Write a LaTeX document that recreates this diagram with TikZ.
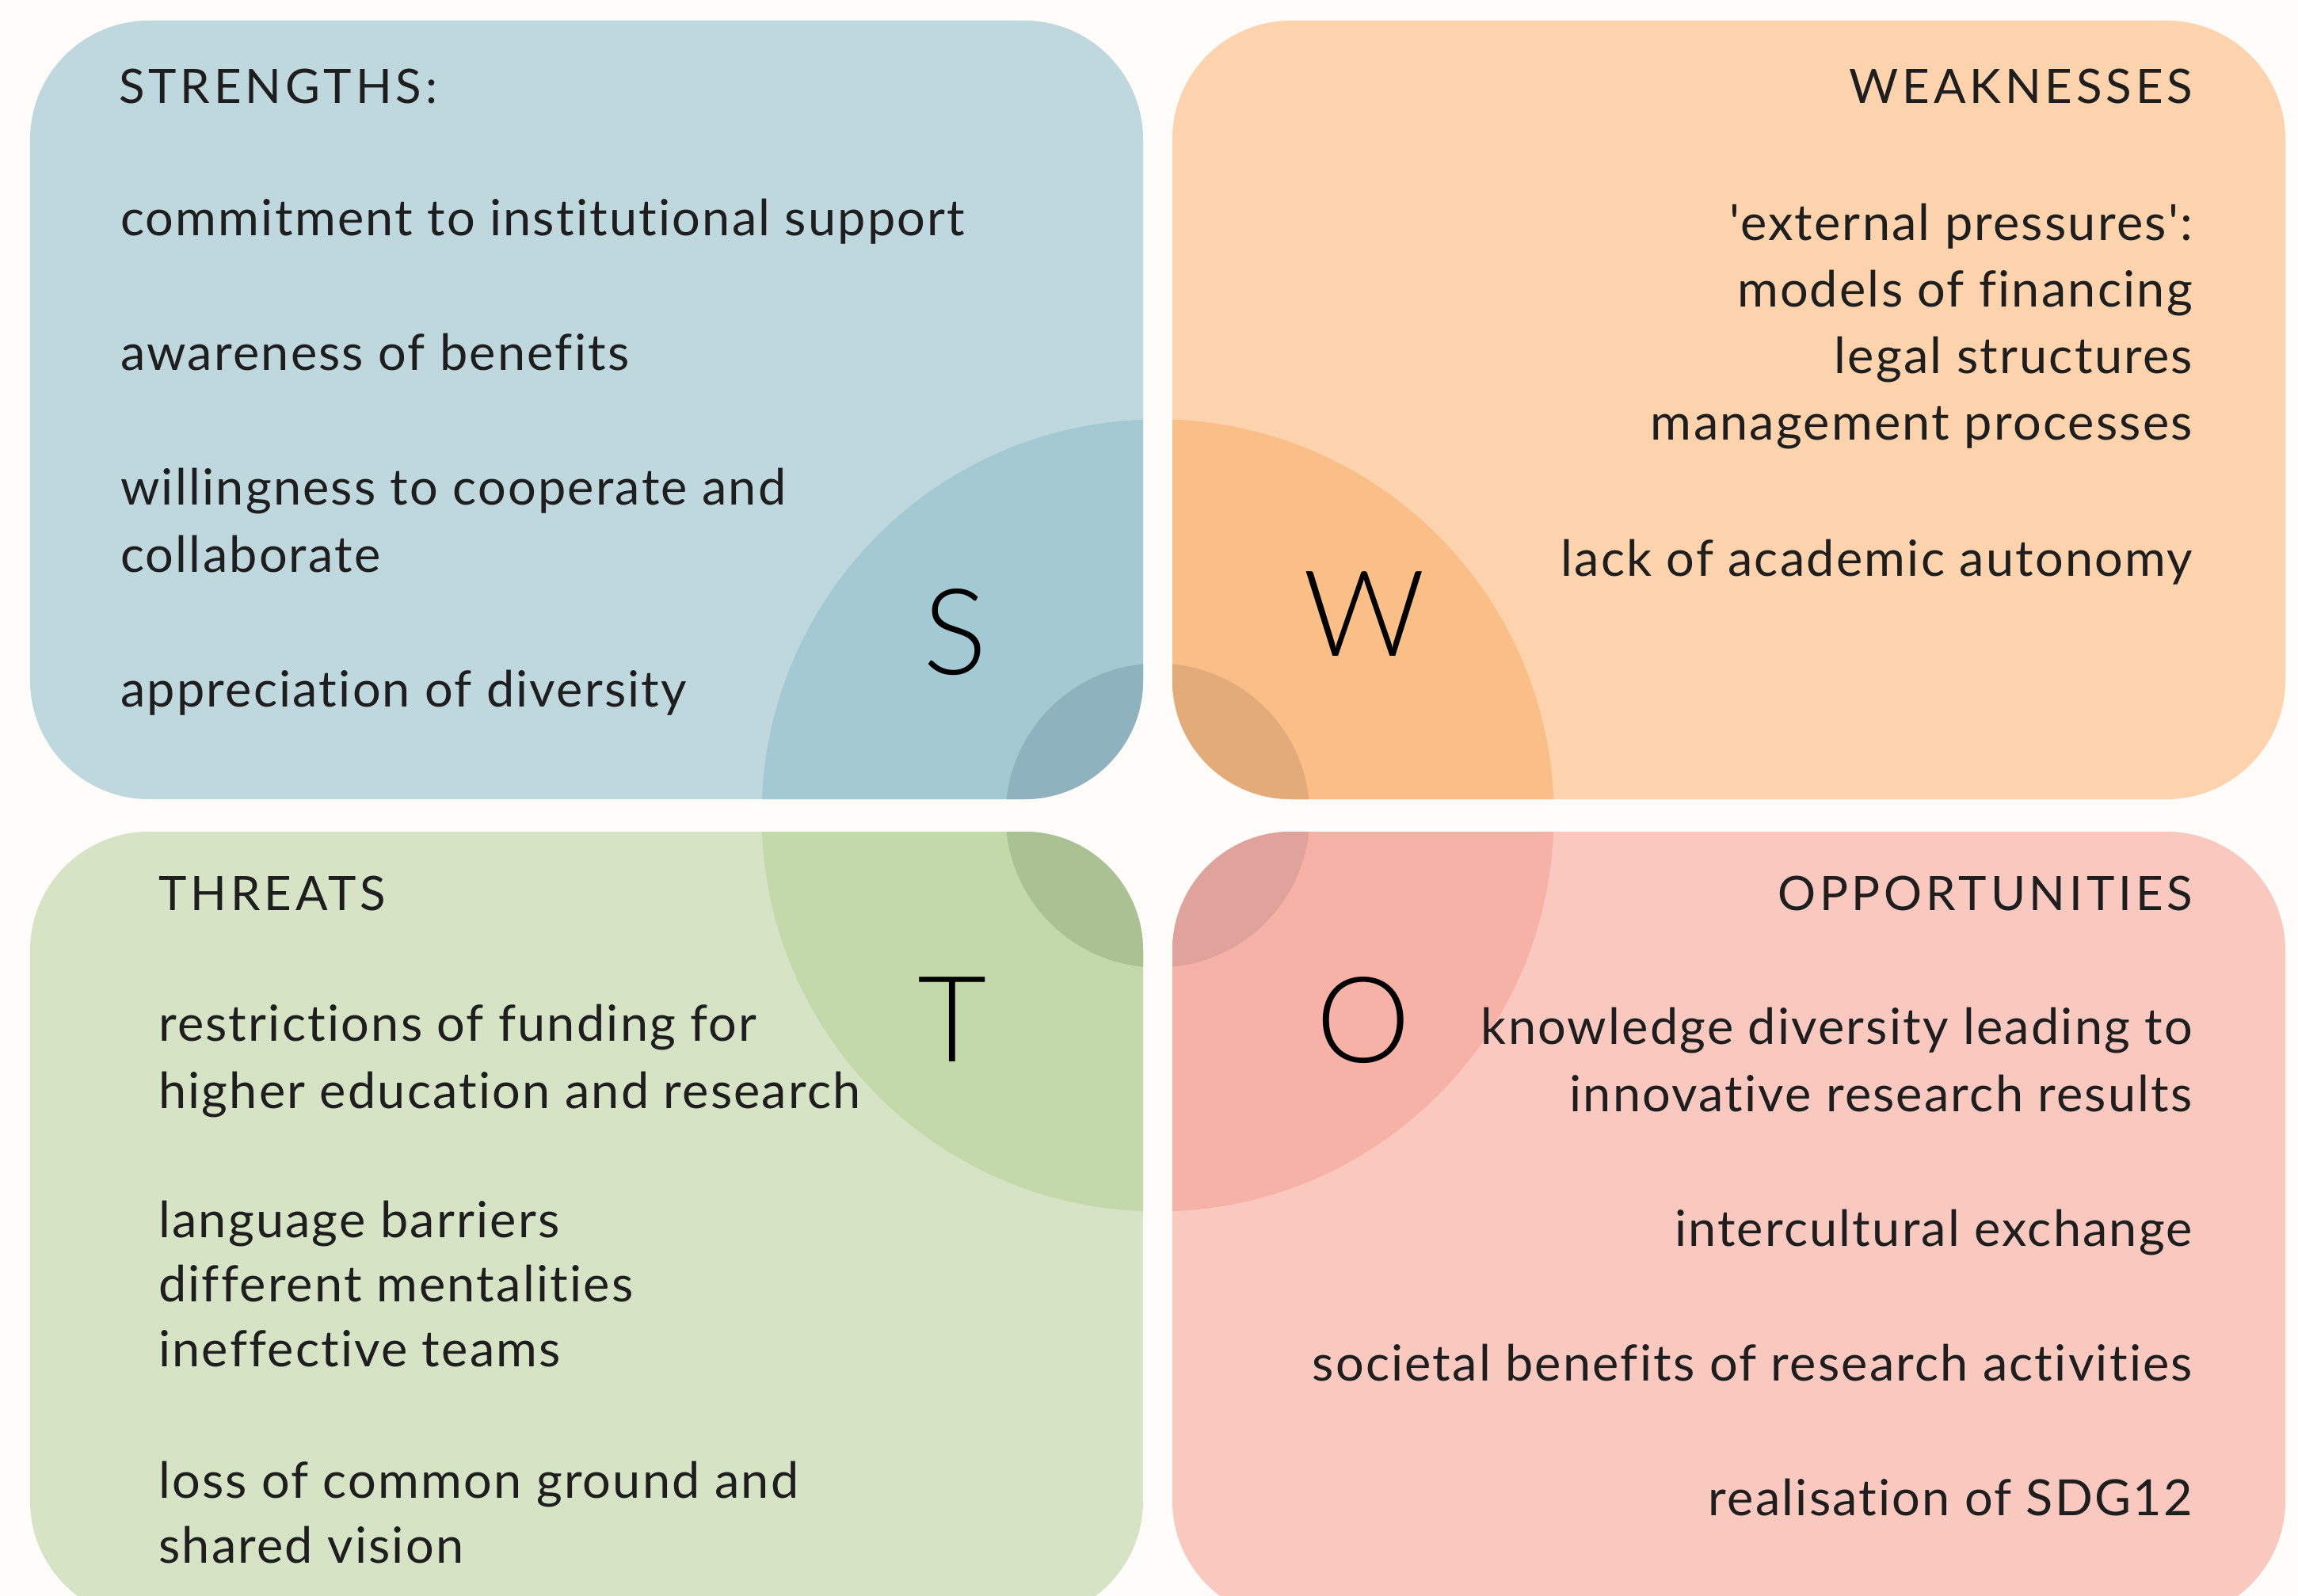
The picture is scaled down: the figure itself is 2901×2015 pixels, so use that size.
\documentclass[tikz,border=0pt]{standalone}
\usepackage{fontspec}
\setmainfont{Lato}
\newfontfamily\bodyfont{Lato}[LetterSpace=3.5, Ligatures={NoCommon}]
\newfontfamily\titlefont{Lato}[LetterSpace=8, Ligatures={NoCommon}]
\newfontfamily\bigfont{Lato Light}
\definecolor{bgc}{HTML}{FEFCF9}
\definecolor{sbase}{HTML}{BED8DD}
\definecolor{slarge}{HTML}{A3C9D2}
\definecolor{ssmall}{HTML}{8EB3BE}
\definecolor{wbase}{HTML}{FCD3AC}
\definecolor{wlarge}{HTML}{F9BF87}
\definecolor{wsmall}{HTML}{E3AA7A}
\definecolor{tbase}{HTML}{D6E4C5}
\definecolor{tlarge}{HTML}{C3D9AA}
\definecolor{tsmall}{HTML}{A9C193}
\definecolor{obase}{HTML}{F9C9C0}
\definecolor{olarge}{HTML}{F7B2A8}
\definecolor{osmall}{HTML}{E0A39B}
\definecolor{ink}{HTML}{1E1E1E}
\tikzset{
  body/.style={inner sep=0pt, text=ink, font=\bodyfont\fontsize{63}{85}\selectfont},
  lbody/.style={body, anchor=base west},
  rbody/.style={body, anchor=base east},
  ttl/.style={inner sep=0pt, text=ink, font=\titlefont\fontsize{60}{70}\selectfont},
  bigl/.style={inner sep=0pt, text=black, anchor=base, font=\bigfont\fontsize{151}{160}\selectfont},
  quad/.style={rounded corners=150pt}
}
\begin{document}
\begin{tikzpicture}[x=1pt,y=-1pt]
\fill[bgc] (0,0) rectangle (2901,2015);
\useasboundingbox (0,0) rectangle (2901,2015);
\coordinate (ctr) at (1461.5,1029.5);
% quadrants
\foreach \n/\xa/\ya/\xb/\yb in {s/38/26/1443/1009, w/1480/26/2885/1009, t/38/1050/1443/2045, o/1480/1050/2885/2045}{
  \fill[\n base, quad] (\xa,\ya) rectangle (\xb,\yb);
  \begin{scope}
    \clip[quad] (\xa,\ya) rectangle (\xb,\yb);
    \fill[\n large] (ctr) circle[radius=500pt];
    \fill[\n small] (ctr) circle[radius=192pt];
  \end{scope}
}
% big letters
\node[bigl] (bigS) at (1206,851) {S};
\node[bigl] (bigW) at (1722,828) {W};
\node[bigl] (bigT) at (1202,1340) {T};
\node[bigl] (bigO) at (1721,1341) {O};
% strengths
\node[ttl, anchor=base west] (stitle) at (150,131) {STRENGTHS:};
\node[lbody] (s1) at (152,297) {commitment to institutional support};
\node[lbody] (s2) at (152,467) {awareness of benefits};
\node[lbody] (s3a) at (152,637) {willingness to cooperate and};
\node[lbody] (s3b) at (152,722) {collaborate};
\node[lbody] (s4) at (152,892) {appreciation of diversity};
% weaknesses
\node[ttl, anchor=base east] (wtitle) at (2768,131) {WEAKNESSES};
\node[rbody] (w1a) at (2768,303) {'external pressures':};
\node[rbody] (w1b) at (2768,387) {models of financing};
\node[rbody] (w1c) at (2768,471) {legal structures};
\node[rbody] (w1d) at (2768,555) {management processes};
\node[rbody] (w2) at (2768,727) {lack of academic autonomy};
% threats
\node[ttl, anchor=base west] (ttitle) at (200,1149) {THREATS};
\node[lbody] (t1a) at (200,1314) {restrictions of funding for};
\node[lbody] (t1b) at (200,1399) {higher education and research};
\node[lbody] (t2a) at (200,1562) {language barriers};
\node[lbody] (t2b) at (200,1643) {different mentalities};
\node[lbody] (t2c) at (200,1725) {ineffective teams};
\node[lbody] (t3a) at (200,1891) {loss of common ground and};
\node[lbody] (t3b) at (200,1973) {shared vision};
% opportunities
\node[ttl, anchor=base east] (otitle) at (2768,1149) {OPPORTUNITIES};
\node[rbody] (o1a) at (2768,1318) {knowledge diversity leading to};
\node[rbody] (o1b) at (2768,1403) {innovative research results};
\node[rbody] (o2) at (2768,1573) {intercultural exchange};
\node[rbody] (o3) at (2768,1743) {societal benefits of research activities};
\node[rbody] (o4) at (2768,1913) {realisation of SDG12};
\end{tikzpicture}
\end{document}
